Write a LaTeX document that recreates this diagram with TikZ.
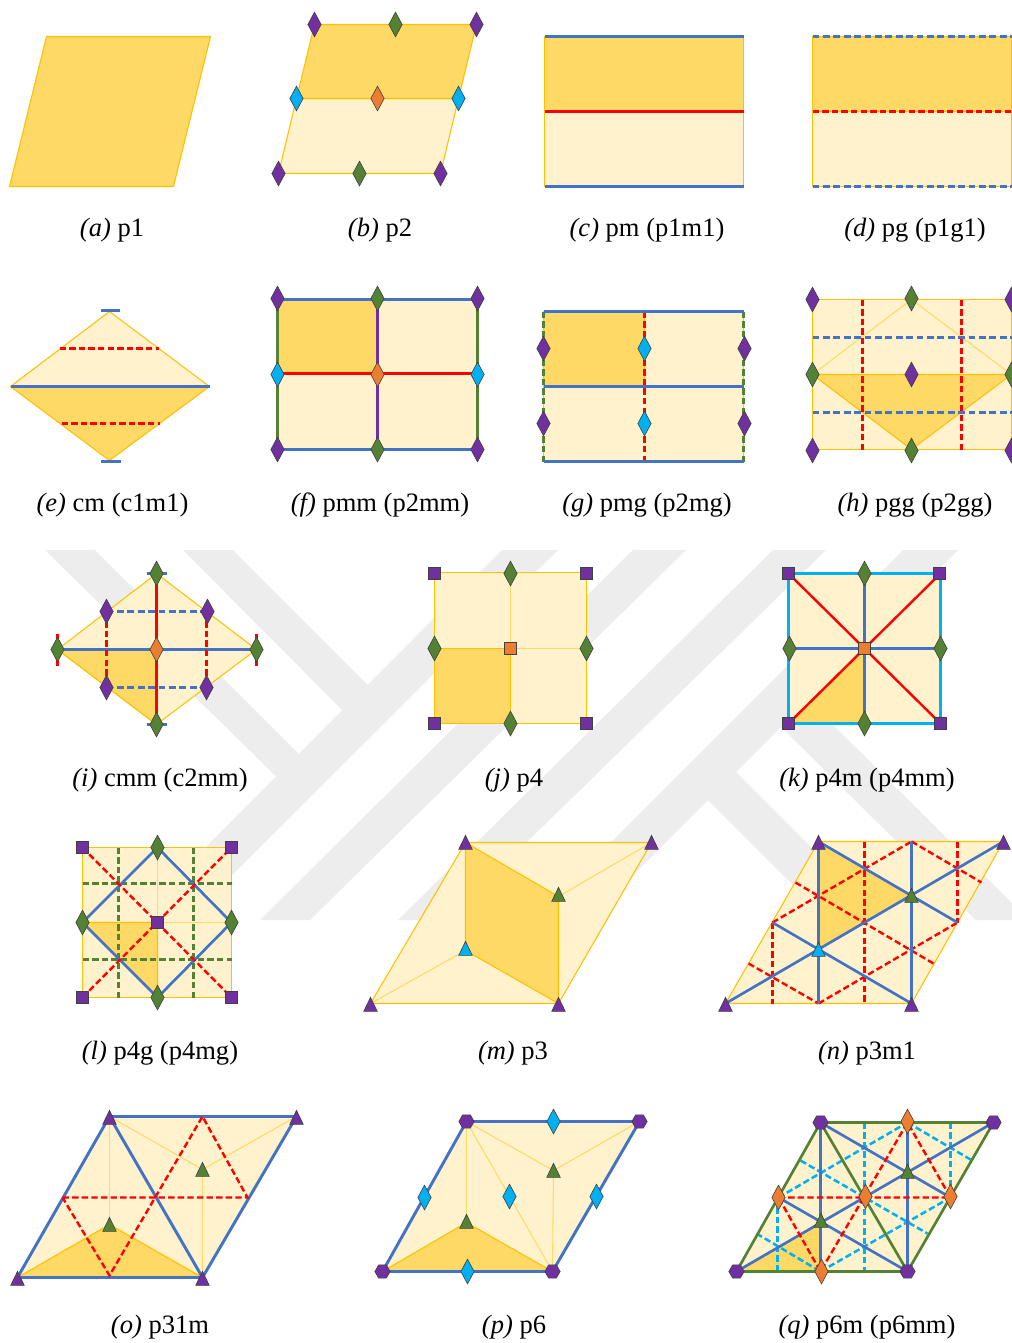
\documentclass[tikz,border=0pt]{standalone}
\usepackage{fontspec}
\setmainfont{Liberation Serif}
\usetikzlibrary{shapes.geometric}
\definecolor{lightfill}{HTML}{FFF2CC}
\definecolor{darkfill}{HTML}{FFD966}
\definecolor{edgeyellow}{HTML}{FFC000}
\definecolor{softline}{HTML}{FFD966}
\definecolor{mblue}{HTML}{4472C4}
\definecolor{mred}{HTML}{FF0000}
\definecolor{mgreen}{HTML}{548235}
\definecolor{mpurple}{HTML}{7030A0}
\definecolor{mcyan}{HTML}{00B0F0}
\definecolor{morange}{HTML}{ED7D31}
\definecolor{wmark}{HTML}{EDEDED}
\definecolor{medge}{HTML}{404040}
\tikzset{
  wm/.style={fill=wmark,draw=none},
  cellL/.style={fill=lightfill,draw=edgeyellow,line width=0.8pt,line join=round},
  cellD/.style={fill=darkfill,draw=edgeyellow,line width=0.8pt,line join=round},
  thinline/.style={draw=softline,line width=0.8pt},
  blueS/.style={draw=mblue,line width=2.2pt},
  blueT/.style={draw=mblue,line width=2pt},
  blueD/.style={draw=mblue,line width=2pt,dash pattern=on 5.2pt off 2.6pt},
  redS/.style={draw=mred,line width=1.8pt},
  redD/.style={draw=mred,line width=1.8pt,dash pattern=on 4.8pt off 2.4pt},
  greenS/.style={draw=mgreen,line width=2pt},
  greenD/.style={draw=mgreen,line width=1.9pt,dash pattern=on 4.8pt off 2.4pt},
  purpleS/.style={draw=mpurple,line width=2pt},
  cyanS/.style={draw=mcyan,line width=2.1pt},
  cyanD/.style={draw=mcyan,line width=1.9pt,dash pattern=on 4.8pt off 2.4pt},
  mdia/.style={diamond,aspect=0.5,minimum width=10pt,minimum height=18.5pt,inner sep=0pt,outer sep=0pt,draw=medge,line width=0.45pt},
  msq/.style={rectangle,minimum size=9.2pt,inner sep=0pt,outer sep=0pt,draw=medge,line width=0.45pt},
  mhex/.style={regular polygon,regular polygon sides=6,minimum size=11.5pt,inner sep=0pt,outer sep=0pt,draw=medge,line width=0.45pt},
  mdp/.style={mdia,fill=mpurple}, mdg/.style={mdia,fill=mgreen},
  mdc/.style={mdia,fill=mcyan},   mdo/.style={mdia,fill=morange},
  msp/.style={msq,fill=mpurple},  mso/.style={msq,fill=morange},
  mhp/.style={mhex,fill=mpurple},
  mtri/.style={draw=medge,line width=0.45pt,line join=miter},
  capt/.style={anchor=base,inner sep=0pt,font=\fontsize{19.9}{24}\selectfont},
}
\newcommand{\mytri}[3]{\path[mtri,fill=#1] (#2-6.8,#3+6.9) -- (#2,#3-7.2) -- (#2+6.8,#3+6.9) -- cycle;}
\begin{document}
\begin{tikzpicture}[x=0.75pt,y=-0.75pt]
\useasboundingbox (0,0) rectangle (1012,1343);
\clip (0,0) rectangle (1012,1343);
\fill[white] (0,0) rectangle (1012,1343);

% watermark
\fill[wm] (45,550) -- (95,550) -- (308,763) -- (285,785) -- cycle;
\fill[wm] (183,550) -- (233,550) -- (378,695) -- (352,720) -- cycle;
\fill[wm] (502,550) -- (558,550) -- (187,920) -- (133,920) -- cycle;
\fill[wm] (633,550) -- (686,550) -- (310,920) -- (260,920) -- cycle;
\fill[wm] (773,550) -- (826,550) -- (447,920) -- (398,920) -- cycle;
\fill[wm] (903,550) -- (958,550) -- (588,920) -- (533,920) -- cycle;
\fill[wm] (695,787) -- (723,759) -- (884,920) -- (828,920) -- cycle;
\fill[wm] (773,719) -- (800,692) -- (1029,920) -- (976,920) -- cycle;

\begin{scope}[shift={(0.5,0.5)}]
% (a)
\path[cellD] (46,36) -- (210,36) -- (173,186) -- (9,186) -- cycle;

% (b)
\path[cellL] (296,98) -- (458,98) -- (440,173) -- (278,173) -- cycle;
\path[cellD] (314,24) -- (476,24) -- (458,98) -- (296,98) -- cycle;
\node[mdp] (b1) at (314,24) {};
\node[mdg] (b2) at (395,24) {};
\node[mdp] (b3) at (476,24) {};
\node[mdc] (b4) at (296,98) {};
\node[mdo] (b5) at (377,98) {};
\node[mdc] (b6) at (458,98) {};
\node[mdp] (b7) at (278,173) {};
\node[mdg] (b8) at (359,173) {};
\node[mdp] (b9) at (440,173) {};

% (c)
\path[cellL] (544,111) rectangle (743,186);
\path[cellD] (544,36) rectangle (743,111);
\draw[blueT] (544,36) -- (743,36);
\draw[blueT] (544,186) -- (743,186);
\draw[redS] (544,111) -- (743,111);

% (d)
\path[cellL] (812,111) rectangle (1011,186);
\path[cellD] (812,36) rectangle (1011,111);
\draw[blueD] (812,36) -- (1011,36);
\draw[blueD] (812,186) -- (1011,186);
\draw[redD] (812,111) -- (1011,111);

% (e)
\path[cellL] (10,386) -- (109,311) -- (209,386) -- cycle;
\path[cellD] (10,386) -- (109,460) -- (209,386) -- cycle;
\draw[blueT] (10,386) -- (209,386);
\draw[blueT] (100,310) -- (119,310);
\draw[blueT] (100,461) -- (120,461);
\draw[redD] (59,348) -- (158,348);
\draw[redD] (61,423) -- (159,423);

% (f)
\path[cellL] (277,299) rectangle (477,449);
\path[cellD] (277,299) rectangle (377,373);
\draw[greenS] (277,299) -- (277,449);
\draw[greenS] (477,299) -- (477,449);
\draw[purpleS] (377,299) -- (377,449);
\draw[blueT] (277,299) -- (477,299);
\draw[blueT] (277,449) -- (477,449);
\draw[redS] (277,373) -- (477,373);
\node[mdp] (f1) at (277,298) {};
\node[mdg] (f2) at (377,298) {};
\node[mdp] (f3) at (477,298) {};
\node[mdc] (f4) at (277,374) {};
\node[mdo] (f5) at (377,374) {};
\node[mdc] (f6) at (477,374) {};
\node[mdp] (f7) at (277,449) {};
\node[mdg] (f8) at (377,449) {};
\node[mdp] (f9) at (477,449) {};

% (g)
\path[cellL] (543,311) rectangle (743,461);
\path[cellD] (543,311) rectangle (644,386);
\draw[greenD] (543,311) -- (543,461);
\draw[greenD] (743,311) -- (743,461);
\draw[redD] (644,311) -- (644,461);
\draw[blueT] (543,311) -- (743,311);
\draw[blueT] (543,386) -- (743,386);
\draw[blueT] (543,461) -- (743,461);
\node[mdp] (g1) at (543,348) {};
\node[mdc] (g2) at (644,348) {};
\node[mdp] (g3) at (744,348) {};
\node[mdp] (g4) at (543,423) {};
\node[mdc] (g5) at (644,423) {};
\node[mdp] (g6) at (744,423) {};

% (h)
\path[cellL] (812,299) rectangle (1011,449);
\path[cellD] (812,374) -- (1011,374) -- (911,449) -- cycle;
\draw[thinline] (812,374) -- (911,299) -- (1011,374);
\draw[redD] (862,299) -- (862,449);
\draw[redD] (961,299) -- (961,449);
\draw[blueD] (812,337) -- (1012,337);
\draw[blueD] (812,412) -- (1012,412);
\node[mdp] (h1) at (812,299) {};
\node[mdg] (h2) at (911,298) {};
\node[mdp] (h3) at (1011,299) {};
\node[mdg] (h4) at (812,374) {};
\node[mdp] (h5) at (911,374) {};
\node[mdg] (h6) at (1011,374) {};
\node[mdp] (h7) at (812,450) {};
\node[mdg] (h8) at (911,450) {};
\node[mdp] (h9) at (1011,450) {};

% (i)
\path[cellL] (156,573) -- (256,649) -- (156,724) -- (57,649) -- cycle;
\path[cellD] (57,649) -- (156,649) -- (156,724) -- cycle;
\draw[blueT] (146,573) -- (166,573);
\draw[blueT] (146,724) -- (166,724);
\draw[redS] (57,633) -- (57,665);
\draw[redS] (256,633) -- (256,665);
\draw[blueT] (57,649) -- (256,649);
\draw[redS] (156,573) -- (156,724);
\draw[redD] (106,611) -- (106,687);
\draw[redD] (206,611) -- (206,687);
\draw[blueD] (106,611) -- (206,611);
\draw[blueD] (106,687) -- (206,687);
\node[mdg] (i1) at (156,573) {};
\node[mdp] (i2) at (106,611) {};
\node[mdp] (i3) at (207,611) {};
\node[mdg] (i4) at (57,649) {};
\node[mdo] (i5) at (156,649) {};
\node[mdg] (i6) at (256,649) {};
\node[mdp] (i7) at (106,687) {};
\node[mdp] (i8) at (206,687) {};
\node[mdg] (i9) at (156,724) {};

% (j)
\path[cellL] (434,572) rectangle (586,723);
\draw[thinline] (510,572) -- (510,648) -- (586,648);
\path[cellD] (434,648) rectangle (510,723);
\node[msp] (j1) at (434,573) {};
\node[mdg] (j2) at (510,573) {};
\node[msp] (j3) at (586,573) {};
\node[mdg] (j4) at (434,648) {};
\node[mso] (j5) at (510,648) {};
\node[mdg] (j6) at (586,648) {};
\node[msp] (j7) at (434,723) {};
\node[mdg] (j8) at (510,723) {};
\node[msp] (j9) at (586,723) {};

% (k)
\path[cellL] (788,573) rectangle (940,723);
\path[cellD,draw=none] (788,723) -- (864,648) -- (864,723) -- cycle;
\draw[cyanS] (788,573) rectangle (940,723);
\draw[blueT] (788,648) -- (940,648);
\draw[blueT] (864,573) -- (864,723);
\draw[redS] (788,573) -- (940,723);
\draw[redS] (788,723) -- (940,573);
\node[msp] (k1) at (788,573) {};
\node[mdg] (k2) at (864,573) {};
\node[msp] (k3) at (939,573) {};
\node[mdg] (k4) at (789,648) {};
\node[mso] (k5) at (864,648) {};
\node[mdg] (k6) at (940,648) {};
\node[msp] (k7) at (788,723) {};
\node[mdg] (k8) at (864,723) {};
\node[msp] (k9) at (940,723) {};

% (l)
\path[cellL] (82,847) rectangle (231,997);
\draw[thinline] (157,847) -- (157,997);
\draw[thinline] (82,922) -- (231,922);
\path[cellD] (82,922) -- (157,922) -- (157,997) -- cycle;
\draw[greenD] (118,847) -- (118,997);
\draw[greenD] (193,847) -- (193,997);
\draw[greenD] (82,883) -- (231,883);
\draw[greenD] (82,959) -- (231,959);
\draw[blueT] (82,922) -- (157,847) -- (231,922) -- (157,997) -- cycle;
\draw[redD] (82,847) -- (231,997);
\draw[redD] (82,997) -- (231,847);
\node[msp] (l1) at (82,847) {};
\node[mdg] (l2) at (157,847) {};
\node[msp] (l3) at (231,847) {};
\node[mdg] (l4) at (82,922) {};
\node[msp] (l5) at (157,922) {};
\node[mdg] (l6) at (231,922) {};
\node[msp] (l7) at (82,997) {};
\node[mdg] (l8) at (157,997) {};
\node[msp] (l9) at (231,997) {};

% (m)
\path[cellL] (370,1003) -- (558,1003) -- (651,842) -- (465,842) -- cycle;
\draw[thinline] (370,1003) -- (465,950);
\draw[thinline] (558,896) -- (651,842);
\path[cellD] (465,842) -- (558,896) -- (558,1003) -- (465,950) -- cycle;
\mytri{mpurple}{465}{842}
\mytri{mpurple}{651}{842}
\mytri{mcyan}{465}{948}
\mytri{mgreen}{558}{894}
\mytri{mpurple}{370}{1004}
\mytri{mpurple}{558}{1004}

% (n)
\path[cellL] (725,1003) -- (911,1003) -- (1003,841) -- (818,841) -- cycle;
\path[cellD,draw=none] (818,841) -- (911,895) -- (818,949) -- cycle;
\draw[redD] (772,922) -- (772,1003);
\draw[redD] (864,841) -- (864,1003);
\draw[redD] (957,841) -- (957,922);
\draw[redD] (818,1003) -- (957,922);
\draw[redD] (772,922) -- (911,841);
\draw[redD] (748,963) -- (818,1003);
\draw[redD] (795,882) -- (933,963);
\draw[redD] (911,841) -- (981,882);
\draw[blueT] (818,841) -- (818,1003);
\draw[blueT] (911,841) -- (911,1003);
\draw[blueT] (725,1003) -- (1003,841);
\draw[blueT] (818,841) -- (957,922);
\draw[blueT] (772,922) -- (911,1003);
\mytri{mpurple}{818}{842}
\mytri{mpurple}{1003}{842}
\mytri{mcyan}{818}{949}
\mytri{mgreen}{911}{895}
\mytri{mpurple}{725}{1004}
\mytri{mpurple}{911}{1004}

% (o)
\path[cellL,draw=none] (17,1277) -- (202,1277) -- (296,1116) -- (109,1116) -- cycle;
\draw[thinline] (109,1116) -- (109,1224);
\draw[thinline] (109,1116) -- (202,1169) -- (296,1116);
\draw[thinline] (202,1169) -- (202,1277);
\path[cellD] (17,1277) -- (109,1224) -- (202,1277) -- cycle;
\draw[blueS] (17,1277) -- (202,1277) -- (296,1116) -- (109,1116) -- cycle;
\draw[blueS] (109,1116) -- (202,1277);
\draw[redD] (62,1197) -- (247,1197) -- (202,1116) -- (109,1275) -- cycle;
\mytri{mpurple}{109}{1117}
\mytri{mpurple}{296}{1117}
\mytri{mgreen}{202}{1169}
\mytri{mgreen}{109}{1224}
\mytri{mpurple}{17}{1278}
\mytri{mpurple}{202}{1278}

% (p)
\path[cellL,draw=none] (382,1271) -- (552,1271) -- (639,1121) -- (466,1121) -- cycle;
\draw[thinline] (466,1121) -- (466,1222);
\draw[thinline] (466,1121) -- (552,1271);
\draw[thinline] (466,1121) -- (553,1170) -- (639,1121);
\draw[thinline] (553,1170) -- (552,1271);
\path[cellD] (382,1271) -- (466,1222) -- (552,1271) -- cycle;
\draw[blueS] (382,1271) -- (552,1271) -- (639,1121) -- (466,1121) -- cycle;
\mytri{mgreen}{553}{1170}
\mytri{mgreen}{466}{1221}
\node[mhp] (p1) at (466,1121) {};
\node[mhp] (p2) at (639,1121) {};
\node[mhp] (p3) at (382,1271) {};
\node[mhp] (p4) at (552,1271) {};
\node[mdc] (p5) at (553,1121) {};
\node[mdc] (p6) at (424,1197) {};
\node[mdc] (p7) at (509,1196) {};
\node[mdc] (p8) at (596,1196) {};
\node[mdc] (p9) at (467,1271) {};

% (q)
\path[cellL,draw=none] (736,1271) -- (907,1271) -- (993,1122) -- (820,1122) -- cycle;
\path[cellD,draw=none] (736,1271) -- (820,1222) -- (820,1271) -- cycle;
\draw[cyanD] (777,1197) -- (777,1271);
\draw[cyanD] (864,1122) -- (864,1271);
\draw[cyanD] (950,1122) -- (950,1197);
\draw[cyanD] (820,1271) -- (950,1197);
\draw[cyanD] (778,1197) -- (907,1122);
\draw[cyanD] (756,1233) -- (820,1271);
\draw[cyanD] (800,1160) -- (927,1233);
\draw[cyanD] (907,1122) -- (970,1159);
\draw[blueT] (820,1122) -- (820,1271);
\draw[blueT] (907,1122) -- (907,1271);
\draw[blueT] (736,1271) -- (993,1122);
\draw[blueT] (820,1122) -- (950,1197);
\draw[blueT] (778,1197) -- (907,1271);
\draw[greenS] (736,1271) -- (907,1271) -- (993,1122) -- (820,1122) -- cycle;
\draw[greenS] (820,1122) -- (907,1271);
\draw[redD] (778,1197) -- (950,1197) -- (907,1122) -- (820,1271) -- cycle;
\mytri{mgreen}{820.5}{1220}
\mytri{mgreen}{907}{1171}
\node[mhp] (q1) at (820,1122) {};
\node[mhp] (q2) at (993,1122) {};
\node[mhp] (q3) at (736,1271) {};
\node[mhp] (q4) at (907,1271) {};
\node[mdo] (q5) at (907,1121) {};
\node[mdo] (q6) at (778,1197) {};
\node[mdo] (q7) at (865,1196) {};
\node[mdo] (q8) at (950,1196) {};
\node[mdo] (q9) at (821,1271) {};
\end{scope}

% captions
\node[capt] (ca) at (112,236) {\textit{(a)} p1};
\node[capt] (cb) at (380,236) {\textit{(b)} p2};
\node[capt] (cc) at (647,236) {\textit{(c)} pm (p1m1)};
\node[capt] (cd) at (915,236) {\textit{(d)} pg (p1g1)};
\node[capt] (ce) at (112.5,511) {\textit{(e)} cm (c1m1)};
\node[capt] (cf) at (380,511) {\textit{(f)} pmm (p2mm)};
\node[capt] (cg) at (647,511) {\textit{(g)} pmg (p2mg)};
\node[capt] (ch) at (915,511) {\textit{(h)} pgg (p2gg)};
\node[capt] (ci) at (160,786) {\textit{(i)} cmm (c2mm)};
\node[capt] (cj) at (514,786) {\textit{(j)} p4};
\node[capt] (ck) at (867,786) {\textit{(k)} p4m (p4mm)};
\node[capt] (cl) at (160,1059) {\textit{(l)} p4g (p4mg)};
\node[capt] (cm) at (513,1059) {\textit{(m)} p3};
\node[capt] (cn) at (867,1059) {\textit{(n)} p3m1};
\node[capt] (co) at (160,1333) {\textit{(o)} p31m};
\node[capt] (cp) at (514,1333) {\textit{(p)} p6};
\node[capt] (cq) at (867,1333) {\textit{(q)} p6m (p6mm)};
\end{tikzpicture}
\end{document}
